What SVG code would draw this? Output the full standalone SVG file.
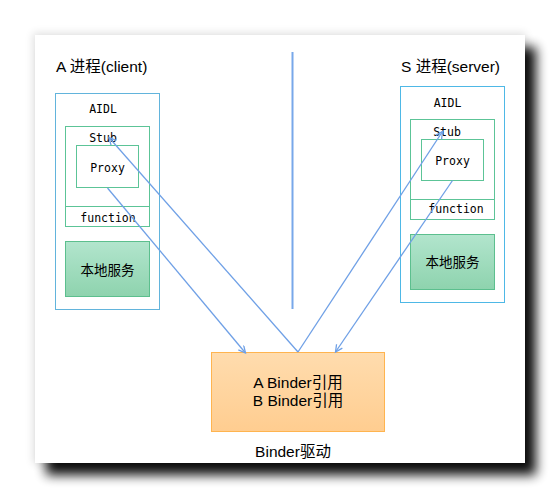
<svg xmlns="http://www.w3.org/2000/svg" width="560" height="498" viewBox="0 0 560 498">
<style>
.title{font-family:"Liberation Sans","Noto Sans CJK SC",sans-serif;font-size:15.5px;fill:#000}
.mono{font-family:"DejaVu Sans Mono","Liberation Mono","Noto Sans CJK SC",monospace;font-size:11.5px;fill:#000;text-anchor:middle}
.cjk{font-family:"Liberation Sans","Noto Sans CJK SC",sans-serif;font-size:13.5px;fill:#000;text-anchor:middle}
.outer{fill:none;stroke:#62b4dc;stroke-width:1}
.green{fill:none;stroke:#5cc497;stroke-width:1}
.local{fill:url(#gGreen);stroke:#5cbf8e;stroke-width:1}
.conn{fill:none;stroke:#6fa0e6;stroke-width:1.3}
.mid{text-anchor:middle}
</style>
<defs>
<linearGradient id="gGreen" x1="0" y1="0" x2="0" y2="1">
<stop offset="0" stop-color="#b2e5cd"/>
<stop offset="1" stop-color="#8ed3ae"/>
</linearGradient>
<linearGradient id="gOrange" x1="0" y1="0" x2="0" y2="1">
<stop offset="0" stop-color="#ffdcae"/>
<stop offset="1" stop-color="#ffcd90"/>
</linearGradient>
<filter id="shadow" x="-20%" y="-20%" width="140%" height="140%">
<feGaussianBlur stdDeviation="6"/>
</filter>
<filter id="soft" x="-20%" y="-20%" width="140%" height="140%">
<feGaussianBlur stdDeviation="4"/>
</filter>
<marker id="arr" markerWidth="10" markerHeight="10" refX="8" refY="4" orient="auto" markerUnits="userSpaceOnUse">
<path d="M1,0.5 L8,4 L1,7.5" fill="none" stroke="#6fa0e6" stroke-width="1.3"/>
</marker>
</defs>
<rect width="560" height="498" fill="#ffffff"/>
<rect x="33" y="33" width="493" height="431" fill="#000" opacity="0.12" filter="url(#soft)"/>
<rect x="46" y="47" width="490" height="428" fill="#000" opacity="0.95" filter="url(#shadow)"/>
<rect x="35" y="35" width="490" height="428" fill="#ffffff"/>

<g id="clientProcess">
<text class="title" x="56" y="72">A 进程(client)</text>
<rect class="outer" x="55.5" y="93.5" width="104" height="216"/>
<text class="mono" x="103" y="113">AIDL</text>
</g>
<g id="clientStub">
<rect class="green" x="65.5" y="126.5" width="84" height="80"/>
<text class="mono" x="103" y="142">Stub</text>
</g>
<g id="clientProxy">
<rect class="green" x="76.5" y="145.5" width="62" height="42"/>
<text class="mono" x="107.5" y="172">Proxy</text>
</g>
<g id="clientFunction">
<rect class="green" x="65.5" y="206.5" width="84" height="20"/>
<text class="mono" x="108" y="222">function</text>
</g>
<g id="clientLocal">
<rect class="local" x="65.5" y="241.5" width="84" height="55"/>
<text class="cjk" x="107.5" y="275">本地服务</text>
</g>

<g id="serverProcess">
<text class="title" x="401" y="72">S 进程(server)</text>
<rect class="outer" x="400.5" y="86.5" width="104" height="216" style="stroke:#4eb8e6"/>
<text class="mono" x="447.5" y="107">AIDL</text>
</g>
<g id="serverStub">
<rect class="green" x="410.5" y="119.5" width="84" height="80"/>
<text class="mono" x="447" y="136">Stub</text>
</g>
<g id="serverProxy">
<rect class="green" x="421.5" y="139.5" width="62" height="41"/>
<text class="mono" x="452.5" y="165">Proxy</text>
</g>
<g id="serverFunction">
<rect class="green" x="410.5" y="199.5" width="84" height="20"/>
<text class="mono" x="456" y="213">function</text>
</g>
<g id="serverLocal">
<rect class="local" x="410.5" y="234.5" width="84" height="55"/>
<text class="cjk" x="452.5" y="267">本地服务</text>
</g>

<g id="binder">
<rect x="211.5" y="352.5" width="173" height="79" fill="url(#gOrange)" stroke="#ffb44f" stroke-width="1"/>
<text class="title mid" x="298" y="388">A Binder引用</text>
<text class="title mid" x="298" y="406">B Binder引用</text>
<text class="title mid" x="293" y="457">Binder驱动</text>
</g>

<g id="connectors">
<line x1="292.5" y1="52" x2="292.5" y2="309" stroke="#78a8ea" stroke-width="2"/>
<path class="conn" d="M298,352 L109,137.5" marker-end="url(#arr)"/>
<path class="conn" d="M298,352 L442.5,131.5" marker-end="url(#arr)"/>
<path class="conn" d="M107.5,188 L245.5,353" marker-end="url(#arr)"/>
<path class="conn" d="M452.5,180.5 L335.5,352" marker-end="url(#arr)"/>
</g>
</svg>
